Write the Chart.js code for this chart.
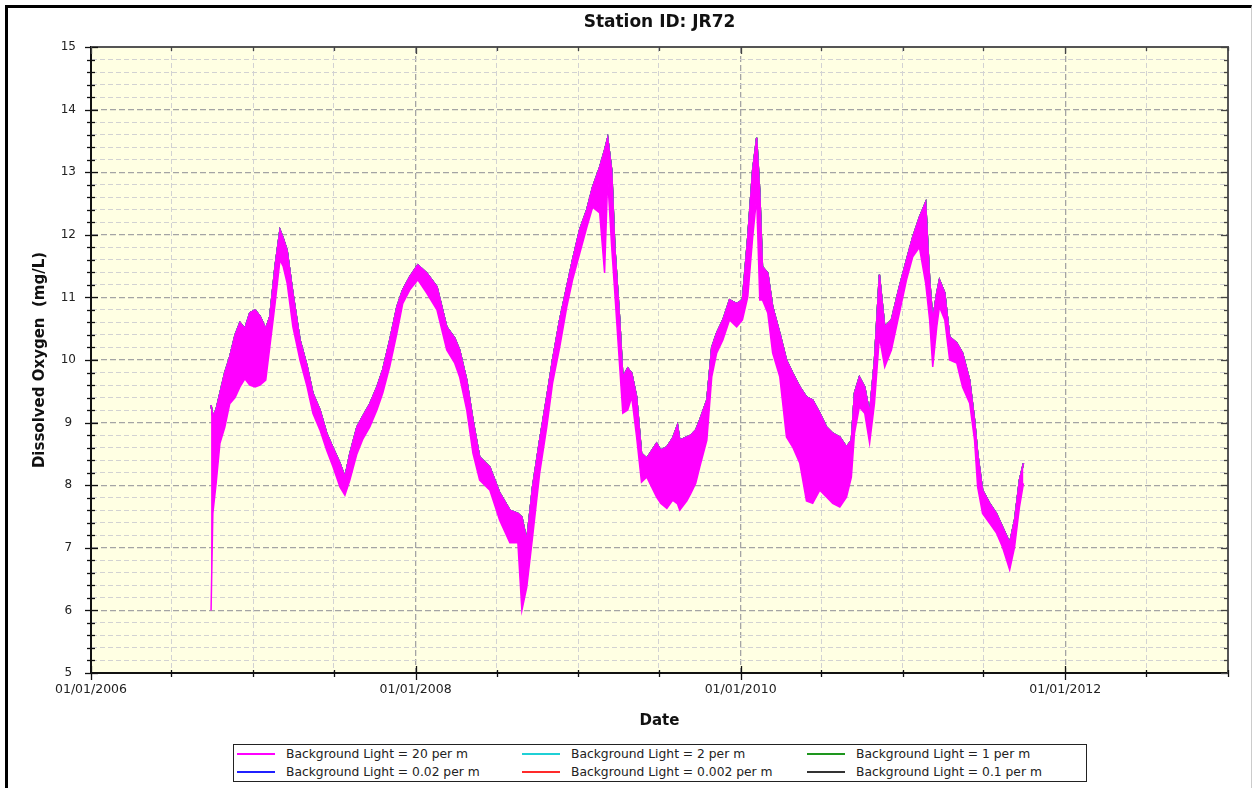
<!DOCTYPE html>
<html>
<head>
<meta charset="utf-8">
<title>Station ID: JR72</title>
<script src="https://cdn.jsdelivr.net/npm/chart.js@4.4.1/dist/chart.umd.min.js"></script>
<style>
  body { margin: 0; background: #fff; font-family: 'DejaVu Sans', sans-serif; }
  #wrap { position: relative; width: 1252px; height: 788px; overflow: hidden; }
  #chart { position: absolute; left: 0; top: 0; }
  #frame {
    position: absolute; left: 5px; top: 5px; width: 1243px; height: 800px;
    border-top: 3px solid #000; border-left: 3px solid #000; border-right: 1px solid #ccc;
    pointer-events: none;
  }
  #legend {
    position: absolute; left: 233px; top: 744px; width: 852px; height: 36px;
    border: 1px solid #222; background: #fff;
    display: grid; grid-template-columns: 285px 285px 282px; grid-template-rows: 18px 18px;
  }
  .item { display: flex; align-items: center; font-size: 12.3px; color: #222; white-space: nowrap; }
  .swatch { width: 38px; height: 2px; margin: 0 11px 0 3px; }
</style>
</head>
<body>
<div id="wrap">
  <canvas id="chart" width="1252" height="788"></canvas>
  <div id="frame"></div>
  <div id="legend"></div>
</div>
<script>
// days since 01/01/2006 for each reading
const dayNumbers = [
  270, 274, 281, 290, 301, 312, 324, 335, 346, 357, 369, 380, 393, 402, 414, 425, 432, 441, 454, 470,
  486, 499, 515, 530, 544, 560, 571, 582, 598, 611, 627, 643, 656, 672, 688, 701, 717, 735, 755, 778,
  800, 818, 829, 845, 859, 874, 897, 919, 942, 960, 969, 980, 993, 1009, 1025, 1038, 1054, 1070, 1083, 1099,
  1115, 1128, 1144, 1155, 1162, 1171, 1178, 1189, 1196, 1207, 1216, 1227, 1238, 1250, 1272, 1281, 1295, 1308, 1319, 1324, 1340, 1349, 1360,
  1369, 1385, 1396, 1407, 1421, 1436, 1452, 1465, 1477, 1488, 1497, 1504, 1510, 1522, 1533, 1549, 1564, 1578, 1594, 1609,
  1623, 1639, 1654, 1668, 1684, 1699, 1710, 1717, 1728, 1740, 1751, 1762, 1773, 1785, 1800, 1818, 1834, 1848, 1863, 1877,
  1886, 1893, 1902, 1908, 1920, 1931, 1947, 1960, 1976, 1987, 1994, 2005, 2021, 2036, 2050, 2066, 2077, 2088, 2097
];

// daily low / high of dissolved oxygen (mg/L)
const doLow = [
  6.0, 7.55, 8.0, 8.67, 8.93, 9.3, 9.4, 9.57, 9.7, 9.6, 9.57, 9.6, 9.68, 10.2, 10.9, 11.6, 11.5, 11.23, 10.53, 10.0,
  9.57, 9.15, 8.88, 8.56, 8.3, 7.97, 7.84, 8.08, 8.5, 8.73, 8.93, 9.2, 9.47, 9.9, 10.43, 10.9, 11.12, 11.28, 11.07, 10.8,
  10.16, 9.95, 9.73, 9.2, 8.51, 8.08, 7.92, 7.44, 7.08, 7.08, 6.0, 6.37, 7.17, 8.19, 8.93, 9.63, 10.2, 10.85, 11.28, 11.7,
  12.12, 12.44, 12.35, 11.39, 12.9, 11.8, 11.07, 9.89, 9.15, 9.2, 9.41, 8.77, 8.05, 8.13, 7.81, 7.71, 7.63, 7.76, 7.7, 7.6, 7.75, 7.87, 8.03,
  8.29, 8.72, 9.73, 10.11, 10.32, 10.64, 10.53, 10.64, 11.01, 11.96, 12.6, 10.96, 10.96, 10.75, 10.11, 9.73, 8.77, 8.61, 8.35, 7.75,
  7.71, 7.92, 7.81, 7.71, 7.65, 7.81, 8.13, 8.83, 9.25, 9.15, 8.67, 9.31, 10.37, 9.89, 10.16, 10.75, 11.28, 11.65, 11.8, 11.23,
  10.64, 9.89, 10.53, 10.85, 10.64, 10.0, 9.95, 9.57, 9.31, 8.72, 7.97, 7.55, 7.39, 7.24, 7.01, 6.65, 7.01, 7.65, 8.03
];
const doHigh = [
  9.28, 9.1, 9.2, 9.47, 9.8, 10.05, 10.4, 10.6, 10.5, 10.75, 10.8, 10.7, 10.5, 10.69, 11.5, 12.08, 11.95, 11.75, 11.07, 10.32,
  9.9, 9.47, 9.2, 8.83, 8.6, 8.35, 8.13, 8.5, 8.93, 9.1, 9.3, 9.57, 9.84, 10.32, 10.85, 11.12, 11.33, 11.52, 11.39, 11.17,
  10.53, 10.35, 10.16, 9.68, 9.04, 8.45, 8.29, 7.88, 7.6, 7.55, 7.49, 7.12, 7.97, 8.72, 9.41, 10.0, 10.64, 11.17, 11.6, 12.08,
  12.4, 12.76, 13.08, 13.35, 13.55, 13.03, 11.8, 10.64, 9.73, 9.87, 9.79, 9.41, 8.51, 8.43, 8.67, 8.56, 8.61, 8.75, 8.96, 8.72, 8.77, 8.8, 8.88,
  9.04, 9.36, 10.2, 10.43, 10.64, 10.96, 10.9, 10.96, 11.96, 13.03, 13.55, 12.67, 11.49, 11.39, 10.85, 10.43, 10.0, 9.79, 9.57, 9.41,
  9.36, 9.15, 8.93, 8.83, 8.77, 8.61, 8.72, 9.47, 9.73, 9.57, 9.15, 10.0, 11.36, 10.53, 10.64, 11.17, 11.6, 11.96, 12.28, 12.52,
  11.28, 10.64, 11.07, 11.28, 11.07, 10.37, 10.27, 10.11, 9.68, 9.04, 8.51, 7.92, 7.71, 7.55, 7.33, 7.08, 7.44, 8.08, 8.35
];

const seriesLabels = [
  'Background Light = 20 per m', 'Background Light = 2 per m', 'Background Light = 1 per m',
  'Background Light = 0.02 per m', 'Background Light = 0.002 per m', 'Background Light = 0.1 per m'
];
const seriesColors = ['#ff00ff', '#1fd0d6', '#1e961e', '#2020ff', '#ff2a2a', '#333333'];

const xTickLabels = ['01/01/2006', '01/01/2008', '01/01/2010', '01/01/2012'];

const DAY = 86400000;
const startMs = Date.UTC(2006, 0, 1);
const endMs = Date.UTC(2013, 0, 1);
const labelMs = xTickLabels.map((s) => {
  const [m, d, yr] = s.split('/').map(Number);
  return Date.UTC(yr, m - 1, d);
});
const xTickValues = [];
for (let yr = 2006; yr <= 2012; yr++) {
  xTickValues.push(Date.UTC(yr, 0, 1), Date.UTC(yr, 6, 1));
}
xTickValues.push(endMs);

const isWhole = (v) => Math.abs(v - Math.round(v)) < 1e-6;
const toPoints = (vals) => dayNumbers.map((d, i) => ({ x: startMs + d * DAY, y: vals[i] }));

const lineSet = (label, color, vals, extra) => Object.assign({
  label,
  data: toPoints(vals),
  borderColor: color,
  backgroundColor: color,
  borderWidth: 1.5,
  pointRadius: 0,
  fill: false,
}, extra || {});

// magenta band (low line filled up to high line) on top, the other runs below it
const datasets = [
  lineSet(seriesLabels[0], seriesColors[0], doLow, { fill: '+1' }),
  lineSet('', seriesColors[0], doHigh),
];
for (let i = 1; i < seriesLabels.length; i++) {
  datasets.push(lineSet(seriesLabels[i], seriesColors[i], doHigh));
}

const plotBackground = {
  id: 'plotBackground',
  beforeDraw(chart) {
    const { ctx, chartArea: a } = chart;
    ctx.save();
    ctx.fillStyle = '#ffffe3';
    ctx.fillRect(a.left, a.top, a.width, a.height);
    ctx.restore();
  }
};

const axisTicks = {
  id: 'axisTicks',
  afterDraw(chart) {
    const { ctx, chartArea: a, scales: { x, y } } = chart;
    const seg = (x1, y1, x2, y2) => {
      ctx.beginPath();
      ctx.moveTo(x1, y1);
      ctx.lineTo(x2, y2);
      ctx.stroke();
    };
    ctx.save();
    ctx.strokeStyle = '#555';
    ctx.lineWidth = 2;
    ctx.beginPath();
    ctx.moveTo(a.left, a.top);
    ctx.lineTo(a.right, a.top);
    ctx.lineTo(a.right, a.bottom);
    ctx.stroke();

    ctx.lineWidth = 1.3;
    y.ticks.forEach((t) => {
      const py = Math.round(y.getPixelForValue(t.value)) + 0.5;
      const big = isWhole(t.value);
      ctx.strokeStyle = '#111';
      seg(a.left - (big ? 6 : 4), py, a.left + (big ? 7 : 4), py);
      ctx.strokeStyle = '#444';
      seg(a.right - (big ? 7 : 4), py, a.right, py);
    });
    x.ticks.forEach((t) => {
      const px = Math.round(x.getPixelForValue(t.value)) + 0.5;
      const big = labelMs.includes(t.value);
      ctx.strokeStyle = '#111';
      seg(px, a.bottom - (big ? 7 : 3), px, a.bottom + (big ? 7 : 4));
      ctx.strokeStyle = '#444';
      seg(px, a.top, px, a.top + (big ? 7 : 4));
    });
    ctx.restore();
  }
};

const chart = new Chart(document.getElementById('chart'), {
  type: 'line',
  data: { datasets },
  options: {
    responsive: false,
    animation: false,
    events: [],
    layout: { padding: { top: 7, left: 8, right: 24, bottom: 55 } },
    elements: { line: { tension: 0 }, point: { radius: 0 } },
    plugins: {
      legend: { display: false },
      tooltip: { enabled: false },
      title: {
        display: true,
        fullSize: false,
        text: 'Station ID: JR72',
        color: '#111',
        font: { family: 'DejaVu Sans', size: 17, weight: 'bold', lineHeight: 1.2 },
        padding: { top: 5, bottom: 14.6 },
      },
    },
    scales: {
      x: {
        type: 'linear',
        min: startMs,
        max: endMs,
        afterBuildTicks: (s) => { s.ticks = xTickValues.map((v) => ({ value: v })); },
        afterFit: (s) => { s.height = 60; },
        ticks: {
          autoSkip: false,
          maxRotation: 0,
          padding: 9,
          color: '#222',
          font: { family: 'DejaVu Sans', size: 12.5 },
          callback: (v) => {
            const i = labelMs.indexOf(v);
            return i >= 0 ? xTickLabels[i] : '';
          },
        },
        grid: {
          drawTicks: false,
          color: (c) => (c.tick && labelMs.includes(c.tick.value) ? '#a4a4a4' : '#d2d2d2'),
          lineWidth: (c) => (c.tick && labelMs.includes(c.tick.value) ? 1.3 : 1),
        },
        border: {
          display: true,
          color: '#111',
          width: 2,
          dash: (c) => (c.tick ? (labelMs.includes(c.tick.value) ? [6, 3] : [5, 3]) : []),
        },
        title: {
          display: true,
          text: 'Date',
          color: '#111',
          font: { family: 'DejaVu Sans', size: 15, weight: 'bold', lineHeight: 1.2 },
          padding: { top: 0, bottom: 3 },
        },
      },
      y: {
        min: 5,
        max: 15,
        afterFit: (s) => { s.width = 83; },
        ticks: {
          stepSize: 0.2,
          autoSkip: false,
          padding: 15,
          crossAlign: 'center',
          color: '#222',
          font: { family: 'DejaVu Sans', size: 12 },
          callback: (v) => (isWhole(v) ? String(Math.round(v)) : ''),
        },
        grid: {
          drawTicks: false,
          color: (c) => (c.tick && isWhole(c.tick.value) ? '#a4a4a4' : '#d2d2d2'),
          lineWidth: (c) => (c.tick && isWhole(c.tick.value) ? 1.3 : 1),
        },
        border: {
          display: true,
          color: '#111',
          width: 2,
          dash: (c) => (c.tick ? (isWhole(c.tick.value) ? [6, 3] : [5, 3]) : []),
        },
        title: {
          display: true,
          text: 'Dissolved Oxygen  (mg/L)',
          color: '#111',
          font: { family: 'DejaVu Sans', size: 15, weight: 'bold', lineHeight: 1.2 },
          padding: { top: 23, bottom: 0 },
        },
      },
    },
  },
  plugins: [plotBackground, axisTicks],
});

// legend in three columns, two rows, like the original
const legendBox = document.getElementById('legend');
seriesLabels.forEach((label, i) => {
  const item = document.createElement('div');
  item.className = 'item';
  const sw = document.createElement('span');
  sw.className = 'swatch';
  sw.style.background = seriesColors[i];
  const txt = document.createElement('span');
  txt.textContent = label;
  item.appendChild(sw);
  item.appendChild(txt);
  legendBox.appendChild(item);
});
</script>
</body>
</html>
